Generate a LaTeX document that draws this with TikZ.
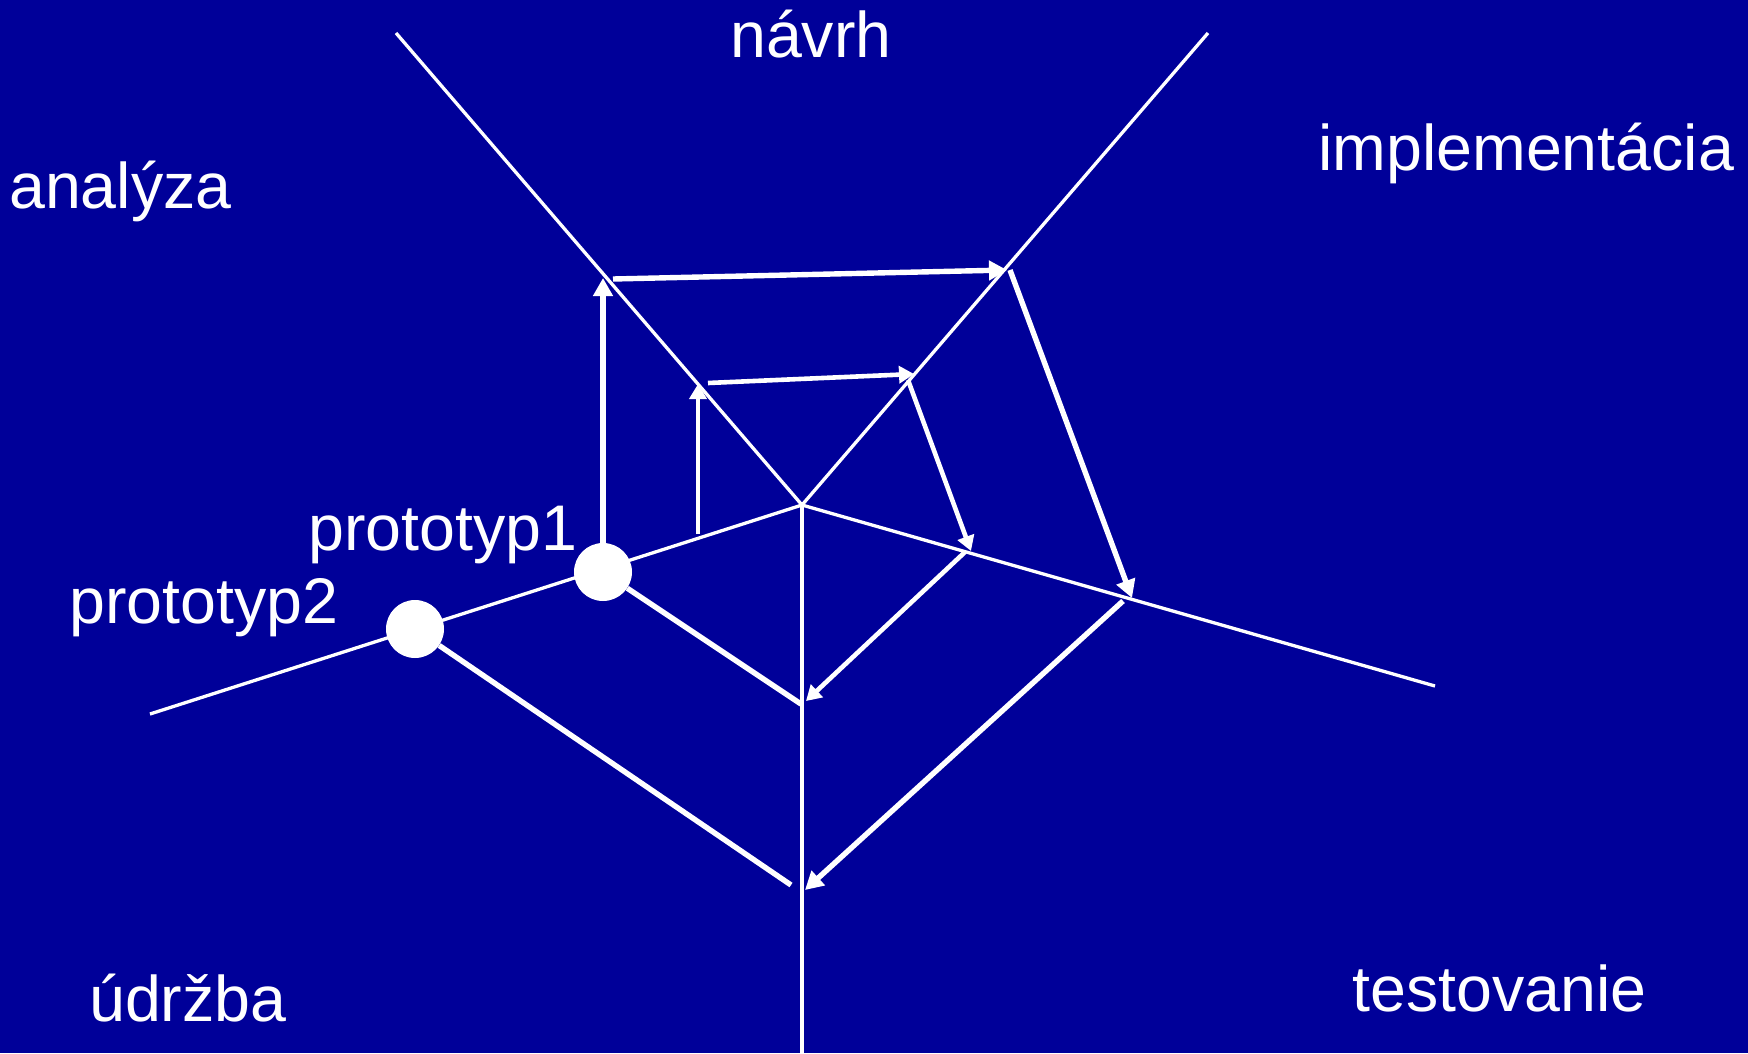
\documentclass[tikz,border=0pt]{standalone}
\usepackage{fontspec}
\setmainfont{Liberation Sans}
\usetikzlibrary{arrows.meta}
\definecolor{bg}{RGB}{0,0,153}
\begin{document}
\begin{tikzpicture}[x=1pt,y=-1pt,
  axis/.style={draw=white,line width=3.3pt},
  big/.style={draw=white,line width=5.4pt,-{Triangle[width=19pt,length=18pt]}},
  small/.style={draw=white,line width=4.6pt,-{Triangle[width=17pt,length=15pt]}},
  plain/.style={draw=white,line width=5.4pt},
  dot/.style={circle,fill=white,minimum size=58pt,inner sep=0pt},
  lbl/.style={text=white,anchor=base west,inner sep=0pt,font=\fontsize{64.5}{75}\selectfont}]
\fill[bg] (0,0) rectangle (1748,1053);
\useasboundingbox (0,0) rectangle (1748,1053);
% skeleton
\coordinate (C) at (802,505);
\coordinate (UL) at (396,33);
\coordinate (UR) at (1208,33);
\coordinate (R) at (1435,686);
\coordinate (L) at (150,714);
\coordinate (B) at (802,1053);
\draw[axis] (UL) -- (C) -- (UR);
\draw[axis] (L) -- (C) -- (R);
\draw[axis] (C) -- (B);
% prototypes
\node[dot] (p1) at (603,572) {};
\node[dot] (p2) at (415,629) {};
% outer cycle
\coordinate (o1) at (603,278);
\coordinate (o2s) at (613,279);
\coordinate (o2) at (1007,270);
\coordinate (o3s) at (1010,270);
\coordinate (o3) at (1132,598);
\coordinate (o4s) at (1123,601);
\coordinate (o4) at (805,890);
\coordinate (o5) at (791,885);
\draw[big] (p1.north) -- (o1);
\draw[big] (o2s) -- (o2);
\draw[big] (o3s) -- (o3);
\draw[big] (o4s) -- (o4);
\draw[plain] (p2) -- (o5);
% inner cycle
\coordinate (i0) at (698,534);
\coordinate (i1) at (698,384);
\coordinate (i2s) at (708,383);
\coordinate (i2) at (914,374);
\coordinate (i3s) at (908,380);
\coordinate (i3) at (971,551);
\coordinate (i4s) at (965,552);
\coordinate (i4) at (806,701);
\coordinate (i5) at (801,704);
\draw[small] (i0) -- (i1);
\draw[small] (i2s) -- (i2);
\draw[small] (i3s) -- (i3);
\draw[small] (i4s) -- (i4);
\draw[plain] (p1) -- (i5);
% labels
\node[lbl] (tn) at (730,57) {návrh};
\node[lbl] (ti) at (1318,170) {implementácia};
\node[lbl] (ta) at (9,208) {analýza};
\node[lbl] (tp1) at (308,550) {prototyp1};
\node[lbl] (tp2) at (69,623) {prototyp2};
\node[lbl] (tu) at (89,1021) {údržba};
\node[lbl] (tt) at (1352,1011) {testovanie};
\end{tikzpicture}
\end{document}
